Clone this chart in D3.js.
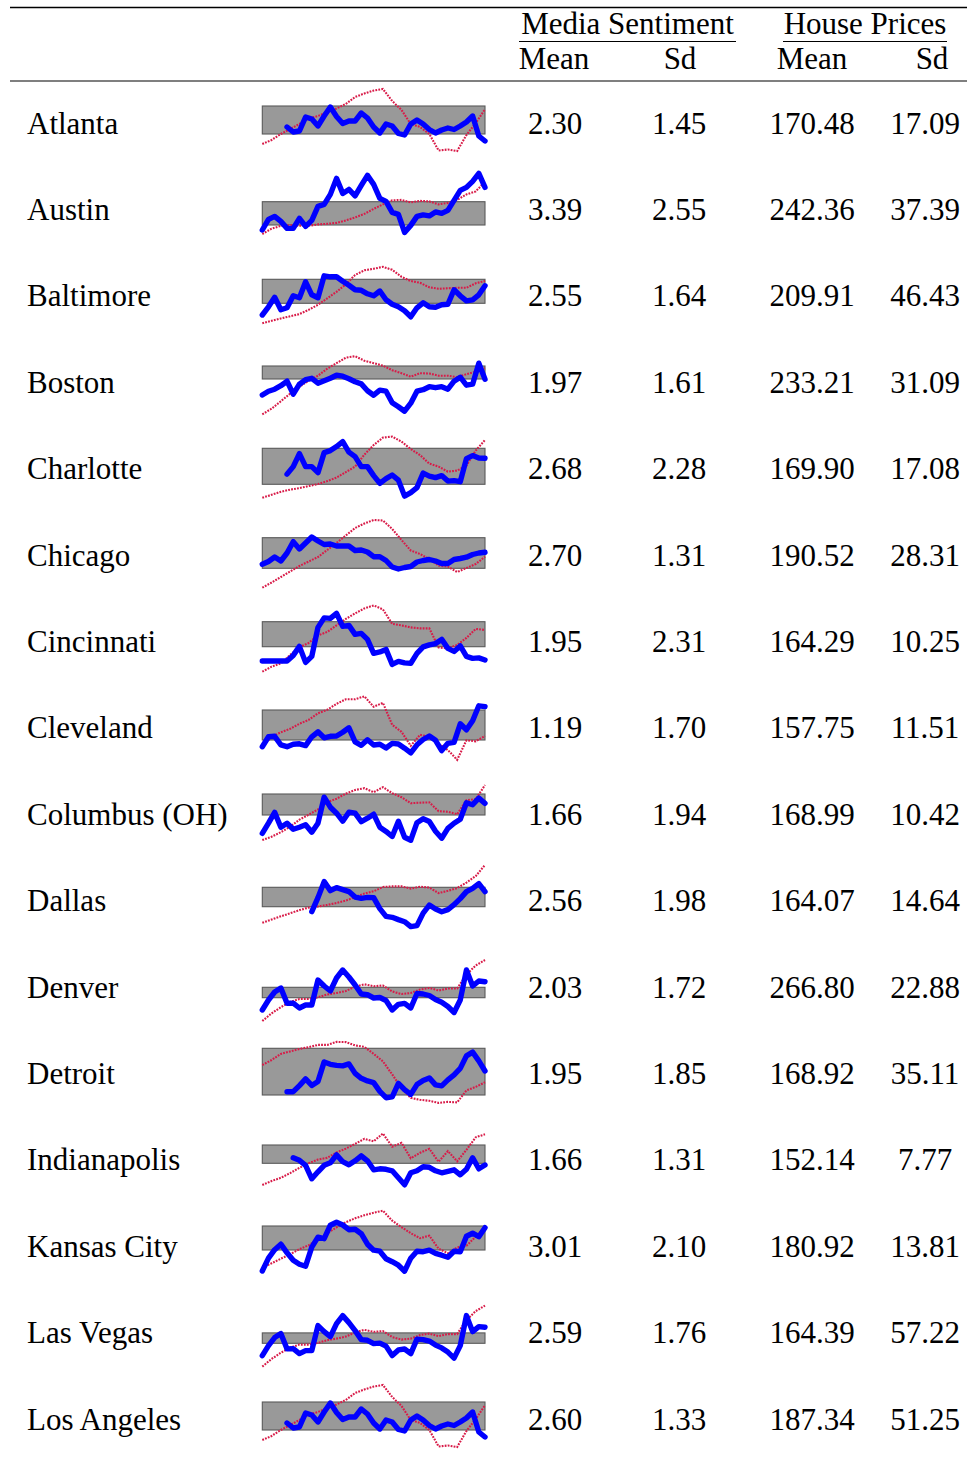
<!DOCTYPE html>
<html><head><meta charset="utf-8">
<script src="https://cdn.jsdelivr.net/npm/d3@7"></script>
<style>body{margin:0;background:#fff}svg{display:block}</style>
</head><body>
<svg id="chart" width="967" height="1460"></svg>
<script>
// ---------- table data ----------
const cities = ["Atlanta","Austin","Baltimore","Boston","Charlotte","Chicago","Cincinnati","Cleveland",
  "Columbus (OH)","Dallas","Denver","Detroit","Indianapolis","Kansas City","Las Vegas","Los Angeles"];
const sentMean  = ["2.30","3.39","2.55","1.97","2.68","2.70","1.95","1.19","1.66","2.56","2.03","1.95","1.66","3.01","2.59","2.60"];
const sentSd    = ["1.45","2.55","1.64","1.61","2.28","1.31","2.31","1.70","1.94","1.98","1.72","1.85","1.31","2.10","1.76","1.33"];
const priceMean = ["170.48","242.36","209.91","233.21","169.90","190.52","164.29","157.75","168.99","164.07","266.80","168.92","152.14","180.92","164.39","187.34"];
const priceSd   = ["17.09","37.39","46.43","31.09","17.08","28.31","10.25","11.51","10.42","14.64","22.88","35.11","7.77","13.81","57.22","51.25"];
const headerGroups = ["Media Sentiment","House Prices"];
const headerCols = ["Mean","Sd","Mean","Sd"];

// ---------- sparkline data (sparkline index units 0..76) ----------
const bandLow  = [24,19.4,27.5,38.2,19.3,21.7,29.7,22.8,34.2,28.9,24.3,13.4,31.5,31.2,24.3,24];
const bandHigh = [52,42.7,51.5,51.2,55.3,52.3,54.7,52.8,55.2,48.3,34.7,60.1,49.8,55.2,34.7,52];

const sentAtlanta = [null,null,null,null,31,26,27,41,39,32,42,51,41.5,34.5,37,37,45,40,31,25,34,32,24.5,23,34,38,34,28.5,25,28,30,28.5,32,36,42,22,17];
const sentAustin = [14.4,25,28,23,16,16,26,18,24,38,40,50,66,51,55,48.5,59,69,60,46,43,32,30,12,19,28,29.5,28.5,32.5,31,34,44,54,57,63,71,57];
const sentBaltimore = [15.8,24,33.5,21,23,35,33,49,36,33,55,54,54,49.5,45.5,41,40.5,37,35,39.8,31,26.5,24,20,14,23,28,24,23.5,26,26.5,41,35,30,31,36,45];
const sentBoston = [22.2,26,28,31.5,36,23,33,37.5,38.9,34,36.5,39,42,41,38.5,35.5,33.3,26.5,22,27,26,14.5,10.5,6,14,26,27.5,30.5,29.5,30.5,28,36,40,32,33,54,38];
const sentCharlotte = [null,null,null,null,29.5,37,50,37,37,31,51,53,57,61.9,51.5,47,37,37,28,20.3,25,28.6,23.5,7.5,11,16,30.5,27.5,26,28,22.5,23,21.9,45,48,45.6,45.3];
const sentChicago = [25.7,28.5,33,29,37,48.3,41,47,53,49,45.5,46,44,44,44,39.5,40,38,33.3,33.3,29.5,23,21,22.5,23.5,28,29.5,30.5,29,26.5,26.5,30.5,31.5,32.8,35.5,37,37.7];
const sentCincinnati = [15.4,15.4,15.4,15.4,15.4,21,30,14,20,49,58.5,58,63,50,51,42,43,37,23.1,24.5,27,12,15,13.5,13,23,29.5,31.5,32.8,37,28,25,30.5,20,18,18.5,16.4];
const sentCleveland = [16.1,26,26.5,18,16.1,18.5,19,17.2,26,31,25,26.5,26.8,30.5,35,21,17.5,23,17.8,18.5,14.8,19.4,18.8,14.6,10,18,23.3,26.8,22.5,12.2,19.5,20.5,39,33,42,57,56.1];
const sentColumbus = [15.9,26,36.8,22,26,20,22,24.5,17,26,52,42,36,28,37,36,27.5,31,35,22,17.8,12.7,28,12,9,26.5,30.5,27.7,18,11,20.8,26,30,46.5,44.5,51,45.9];
const sentDallas = [null,null,null,null,null,null,null,null,24,38,54,45,48,46,44,38.5,37.3,38.2,38,27,19.2,18.3,16,13.9,9,10,22.5,30.5,26.5,23.9,26,31,37,44,47.3,52,43.9];
const sentDenver = [12,22,30,34,18.7,18.9,14,17,17,42,36,31,44,52,45,37,28,27.3,24,24.5,21.5,12,17.7,18.6,14,28.5,28,26.5,22.5,19.7,15.5,9.5,22,52,36,41,40.3];
const sentDetroit = [null,null,null,null,16.7,16.7,22.8,29.5,23,27,46.5,44.1,43,42.5,44.5,35,30.1,27.5,25.8,17,10.7,11.5,25,18.7,14,23.8,28,30.5,23.5,22.5,28.5,33.5,40,52.5,56.3,47.5,37.4];
const sentIndianapolis = [null,null,null,null,null,37,34.5,29.5,16,23,29.5,32,40,33.1,30,34,39,34,25,26,25.5,24,17,10,22,24,28,27.5,24,22,23.5,25,20,25.5,37,26,29.8];
const sentKansasCity = [10.2,23,31.5,37,28.4,21,17,15,34,44,42.5,56,59,56.2,51.5,52,47.5,37,31,30,22.5,19.5,16,10,23,30,29.5,31,27.8,26,24,30,29.5,45,48,44.5,53.5];
const sentLasVegas = [12,22,30,34,18.7,18.9,14,17,17,42,36,31,44,52,45,37,28,27.3,24,24.5,21.5,12,17.7,18.6,14,28.5,28,26.5,22.5,19.7,15.5,9.5,22,52,36,41,40.3];
const sentLosAngeles = [null,null,null,null,31,26,27,41,39,32,42,51,41.5,34.5,37,37,45,40,31,25,34,32,24.5,23,34,38,34,28.5,25,28,30,28.5,32,36,42,22,17];

const hpAtlanta = [14,18,24,29,34,39.5,42,46,49.5,54,61,64.5,67.5,69,57,48,34,31,24,7.5,8.5,7,23,35,48.7];
const hpAustin = [10.4,15.8,18.5,19.3,18.6,18.6,20,20.6,21.5,24,27,30.5,35.5,40,44,44.5,42,43.5,43,40,41.5,44.5,50,53,62.7];
const hpBaltimore = [7.5,10,12.4,14.5,16.7,21,26,32.5,39,46.5,55.8,60.5,62,64,61,54,49.8,48,43.5,42,42.5,43,43,47.5,49.8];
const hpBoston = [2.9,8.5,16,23.5,30.5,36.5,41.5,48.5,54,59.5,61,56.5,54,51.5,47,44,40.5,44,43.7,41.5,41.5,40,43,45.5,48.9];
const hpCharlotte = [5.9,8.8,11.8,14,15.5,17.5,19.5,22.5,26,31.5,37,49,58.5,66,67,62,54.5,48.5,40,37,32,33,38,53,63.6];
const hpChicago = [2.3,7.5,13,18.5,24,28.5,33,40,47,54.5,62,66.5,70,69.5,61,50,39.5,36,31,24.5,23.3,18,22,26,33.3];
const hpCincinnati = [4.7,9.7,13,21.5,29,33.5,41,44.5,51,57.5,63,68,71,67,52.5,51,49,48,48,29,28,31.5,38.5,47.5,46.4];
const hpCleveland = [16.1,26,30.5,34,39,43,49.5,53,59,63.5,63.5,66.5,56,60,38,31,17,28,26,19,12.8,3,22.5,21.5,26.8];
const hpColumbus = [9.2,12.5,17,22.5,29.5,34.5,39.8,47,50.5,55.5,59.2,61,57,62,56,52,46,46.5,46.8,38,37.5,35,49,50,64.2];
const hpDallas = [12.9,16,19.3,22.3,25.5,28,29.1,30.7,32.6,35,38.5,42,44.3,48.6,49.2,49.2,47,48.9,48,42.5,44.8,47.5,53,59.5,70.6];
const hpDenver = [1,8.6,14.8,20,23,23,24.7,27.5,29,31,35.3,37.7,35.8,36.5,30.5,28,29,32.5,34,31.5,33.5,33.5,47.5,56.5,62];
const hpDetroit = [43.4,48.4,54.5,57,59.5,61.2,63.5,63.5,66.5,66.3,63,61.5,54.5,47,34,20,10.5,8.6,7.6,5.5,6.5,6,18,21.5,26.1];
const hpIndianapolis = [9.8,13.8,17,21.7,27,31.5,35.3,37,42.3,46.2,50.9,56,53.5,61.3,48,52,36.5,42,46,33,43.7,33.5,45,57.5,60.5];
const hpKansasCity = [13.5,17.9,22.5,27,32,36,41.5,48,53.8,59,62.9,66,68.5,70.5,60.5,54,48,43,45.5,32.5,28,33.8,35.5,44.5,54.5];
const hpLasVegas = [1,8.6,14.8,20,23,23,24.7,27.5,29,31,35.3,37.7,35.8,36.5,30.5,28,29,32.5,34,31.5,33.5,33.5,47.5,56.5,62];
const hpLosAngeles = [14,18,24,29,34,39.5,42,46,49.5,54,61,64.5,67.5,69,57,48,34,31,24,7.5,8.5,7,23,35,48.7];

const sentimentSeries = [sentAtlanta,sentAustin,sentBaltimore,sentBoston,sentCharlotte,sentChicago,sentCincinnati,
  sentCleveland,sentColumbus,sentDallas,sentDenver,sentDetroit,sentIndianapolis,sentKansasCity,sentLasVegas,sentLosAngeles];
const priceSeries = [hpAtlanta,hpAustin,hpBaltimore,hpBoston,hpCharlotte,hpChicago,hpCincinnati,
  hpCleveland,hpColumbus,hpDallas,hpDenver,hpDetroit,hpIndianapolis,hpKansasCity,hpLasVegas,hpLosAngeles];

// ---------- drawing ----------
const svg = d3.select("#chart");
const FONT = "'Liberation Serif','Times New Roman',serif";
const FS = 31;

const rowCenter = d3.scaleLinear().domain([0, cities.length - 1]).range([124, 1420]);
const colX = d3.scaleOrdinal().domain([0,1,2,3]).range([555, 679, 812, 925]);
const xSent = d3.scaleLinear().domain([0, 36]).range([262.3, 485]);
const xPrice = d3.scaleLinear().domain([0, 24]).range([262.3, 485]);

// rules
svg.append("line").attr("x1",10).attr("x2",967).attr("y1",7.5).attr("y2",7.5).attr("stroke","#000").attr("stroke-width",1.6);
svg.append("line").attr("x1",10).attr("x2",967).attr("y1",81).attr("y2",81).attr("stroke","#000").attr("stroke-width",1.1);
const cmid = [[519,736],[783,947]];
cmid.forEach(([a,b]) => svg.append("line").attr("x1",a).attr("x2",b).attr("y1",41.5).attr("y2",41.5)
  .attr("stroke","#000").attr("stroke-width",1));

// header text
const txt = (x, y, s, anchor) => svg.append("text").attr("x",x).attr("y",y).attr("text-anchor",anchor||"middle")
  .attr("font-family",FONT).attr("font-size",FS).attr("fill","#000").text(s);
txt(627.5, 34, headerGroups[0]);
txt(865, 34, headerGroups[1]);
const hdrX = [554, 680, 812, 932];
headerCols.forEach((h,i) => txt(hdrX[i], 69, h));

// rows
cities.forEach((city, i) => {
  const c = rowCenter(i);
  const base = c + 9.5;
  txt(27, base, city, "start");
  [sentMean[i], sentSd[i], priceMean[i], priceSd[i]].forEach((v, j) => txt(colX(j), base, v));

  const y = d3.scaleLinear().domain([0, 76]).range([c + 34, c - 42]);
  const g = svg.append("g");
  // band
  g.append("rect").attr("x", xSent(0)).attr("width", xSent(36) - xSent(0))
    .attr("y", y(bandHigh[i])).attr("height", y(bandLow[i]) - y(bandHigh[i]))
    .attr("fill","#999999").attr("stroke","#5a5a5a").attr("stroke-width",1.1);
  // house price line (red dotted)
  const lp = d3.line().x((d,k) => xPrice(k)).y(d => y(d));
  g.append("path").attr("d", lp(priceSeries[i])).attr("fill","none")
    .attr("stroke","#d81b48").attr("stroke-width",2.1).attr("stroke-dasharray","1.8 1.2");
  // sentiment line (blue)
  const ls = d3.line().defined(d => d != null).x((d,k) => xSent(k)).y(d => y(d));
  g.append("path").attr("d", ls(sentimentSeries[i])).attr("fill","none")
    .attr("stroke","#0000ff").attr("stroke-width",5.4).attr("stroke-linejoin","round").attr("stroke-linecap","round");
});
</script>
</body></html>
